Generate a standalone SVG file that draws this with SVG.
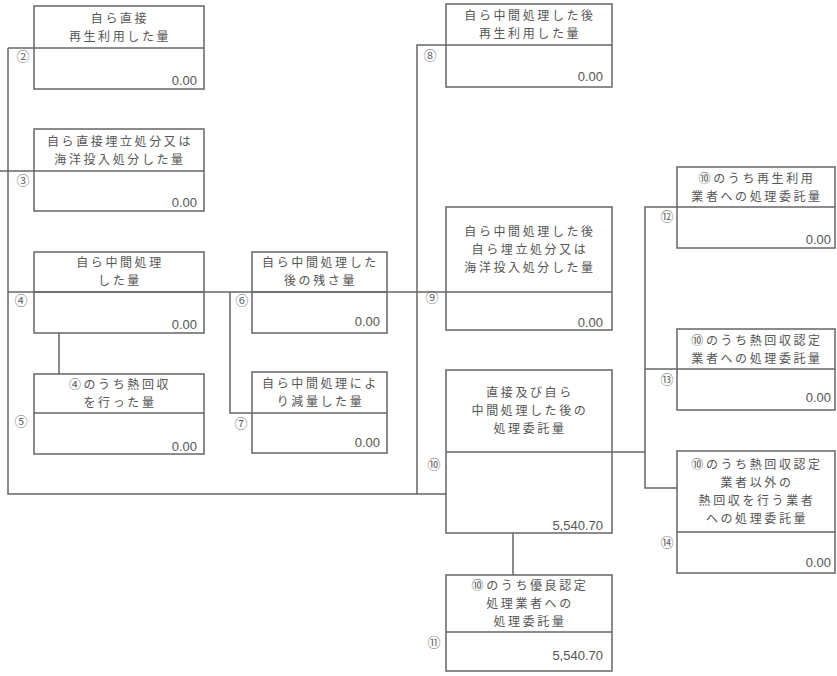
<svg xmlns="http://www.w3.org/2000/svg" width="837" height="676" viewBox="0 0 837 676">
<style>
.bg{fill:#ffffff}
.box{fill:none;stroke:#666;stroke-width:1.5}
.c{fill:none;stroke:#666;stroke-width:1.5}
.t{font-family:"Noto Sans CJK JP","Noto Sans",sans-serif;font-size:12px;fill:#555;text-anchor:middle;letter-spacing:2.6px}
.v{font-family:"Liberation Sans",Arial,sans-serif;font-size:13px;fill:#555;text-anchor:end}
.n{font-family:"Noto Sans CJK JP","Noto Sans",sans-serif;font-size:13px;fill:#666;text-anchor:middle}
</style>
<rect class="bg" x="0" y="0" width="837" height="676"/>
<g id="connectors">
<path class="c" d="M8,48 V494 H446"/>
<path class="c" d="M8,48 H34"/>
<path class="c" d="M0,171 H34"/>
<path class="c" d="M8,292 H446"/>
<path class="c" d="M59,333 V374"/>
<path class="c" d="M230,292 V413 H252"/>
<path class="c" d="M446,45 H417 V494"/>
<path class="c" d="M513,533 V575"/>
<path class="c" d="M612,452 H645"/>
<path class="c" d="M677,207 H645 V488 H677"/>
<path class="c" d="M645,369 H677"/>
</g>
<g id="n2">
<rect class="box" x="34" y="6" width="170" height="83"/>
<line class="box" x1="34" y1="48" x2="204" y2="48"/>
<text class="t" x="120" y="23">自ら直接</text>
<text class="t" x="120" y="41">再生利用した量</text>
<text class="v" x="197" y="85">0.00</text>
<text class="n" x="23" y="61">②</text>
</g>
<g id="n3">
<rect class="box" x="34" y="129" width="170" height="82"/>
<line class="box" x1="34" y1="171" x2="204" y2="171"/>
<text class="t" x="120" y="146">自ら直接埋立処分又は</text>
<text class="t" x="120" y="164">海洋投入処分した量</text>
<text class="v" x="197" y="207">0.00</text>
<text class="n" x="23" y="185">③</text>
</g>
<g id="n4">
<rect class="box" x="34" y="252" width="170" height="81"/>
<line class="box" x1="34" y1="292" x2="204" y2="292"/>
<text class="t" x="120" y="267">自ら中間処理</text>
<text class="t" x="120" y="285">した量</text>
<text class="v" x="197" y="329">0.00</text>
<text class="n" x="21" y="305">④</text>
</g>
<g id="n5">
<rect class="box" x="34" y="374" width="170" height="80"/>
<line class="box" x1="34" y1="413" x2="204" y2="413"/>
<text class="t" x="120" y="389">④のうち熱回収</text>
<text class="t" x="120" y="407">を行った量</text>
<text class="v" x="197" y="451">0.00</text>
<text class="n" x="21" y="426">⑤</text>
</g>
<g id="n6">
<rect class="box" x="252" y="252" width="135" height="81"/>
<line class="box" x1="252" y1="292" x2="387" y2="292"/>
<text class="t" x="320.5" y="267">自ら中間処理した</text>
<text class="t" x="320.5" y="285">後の残さ量</text>
<text class="v" x="380" y="326">0.00</text>
<text class="n" x="242" y="305">⑥</text>
</g>
<g id="n7">
<rect class="box" x="252" y="372" width="135" height="81"/>
<line class="box" x1="252" y1="413" x2="387" y2="413"/>
<text class="t" x="320.5" y="388">自ら中間処理によ</text>
<text class="t" x="320.5" y="406">り減量した量</text>
<text class="v" x="380" y="447">0.00</text>
<text class="n" x="241" y="428">⑦</text>
</g>
<g id="n8">
<rect class="box" x="446" y="4" width="166" height="83"/>
<line class="box" x1="446" y1="45" x2="612" y2="45"/>
<text class="t" x="530" y="20">自ら中間処理した後</text>
<text class="t" x="530" y="38">再生利用した量</text>
<text class="v" x="603" y="81">0.00</text>
<text class="n" x="430" y="60">⑧</text>
</g>
<g id="n9">
<rect class="box" x="446" y="207" width="166" height="123"/>
<line class="box" x1="446" y1="292" x2="612" y2="292"/>
<text class="t" x="530" y="236">自ら中間処理した後</text>
<text class="t" x="530" y="254">自ら埋立処分又は</text>
<text class="t" x="530" y="272">海洋投入処分した量</text>
<text class="v" x="603" y="327">0.00</text>
<text class="n" x="432" y="302">⑨</text>
</g>
<g id="n10">
<rect class="box" x="446" y="370" width="166" height="163"/>
<line class="box" x1="446" y1="452" x2="612" y2="452"/>
<text class="t" x="530" y="397">直接及び自ら</text>
<text class="t" x="530" y="415">中間処理した後の</text>
<text class="t" x="530" y="433">処理委託量</text>
<text class="v" x="603" y="530">5,540.70</text>
<text class="n" x="434" y="469">⑩</text>
</g>
<g id="n11">
<rect class="box" x="446" y="575" width="166" height="96"/>
<line class="box" x1="446" y1="632" x2="612" y2="632"/>
<text class="t" x="530" y="590">⑩のうち優良認定</text>
<text class="t" x="530" y="608">処理業者への</text>
<text class="t" x="530" y="626">処理委託量</text>
<text class="v" x="603" y="660">5,540.70</text>
<text class="n" x="434" y="647">⑪</text>
</g>
<g id="n12">
<rect class="box" x="677" y="167" width="158" height="81"/>
<line class="box" x1="677" y1="207" x2="835" y2="207"/>
<text class="t" x="757" y="183">⑩のうち再生利用</text>
<text class="t" x="757" y="201">業者への処理委託量</text>
<text class="v" x="831" y="244">0.00</text>
<text class="n" x="667" y="221">⑫</text>
</g>
<g id="n13">
<rect class="box" x="677" y="329" width="158" height="81"/>
<line class="box" x1="677" y1="369" x2="835" y2="369"/>
<text class="t" x="757" y="345">⑩のうち熱回収認定</text>
<text class="t" x="757" y="363">業者への処理委託量</text>
<text class="v" x="831" y="402">0.00</text>
<text class="n" x="667" y="384">⑬</text>
</g>
<g id="n14">
<rect class="box" x="677" y="451" width="158" height="122"/>
<line class="box" x1="677" y1="532" x2="835" y2="532"/>
<text class="t" x="757" y="469">⑩のうち熱回収認定</text>
<text class="t" x="757" y="487">業者以外の</text>
<text class="t" x="757" y="505">熱回収を行う業者</text>
<text class="t" x="757" y="523">への処理委託量</text>
<text class="v" x="831" y="567">0.00</text>
<text class="n" x="667" y="547">⑭</text>
</g>
</svg>
